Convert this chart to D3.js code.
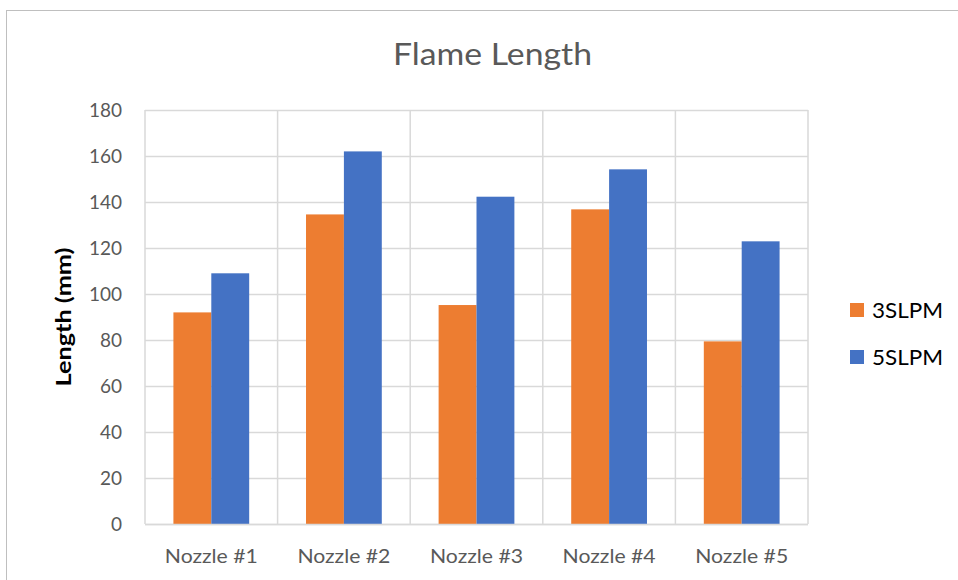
<!DOCTYPE html>
<html><head><meta charset="utf-8">
<script src="https://cdn.jsdelivr.net/npm/d3@7"></script>
<style>body{margin:0;background:#fff}svg{display:block}text{font-family:Lato,"Open Sans",sans-serif}</style>
</head><body>
<svg id="c" width="958" height="580"></svg>
<script>
const categories = ["Nozzle #1","Nozzle #2","Nozzle #3","Nozzle #4","Nozzle #5"];
const seriesNames = ["3SLPM","5SLPM"];
const values3 = [92.0,134.6,95.2,136.8,79.4];
const values5 = [109.0,162.0,142.3,154.2,122.9];
const yTicks = [0,20,40,60,80,100,120,140,160,180];
const colors = ["#ED7D31","#4472C4"];

const svg = d3.select("#c");
svg.append("rect").attr("x",6.5).attr("y",10.5).attr("width",1000).attr("height",600)
  .attr("fill","none").attr("stroke","#bfbfbf");

const L=145,R=808,T=110,B=524;
const x = d3.scaleBand().domain(categories).range([L,R]).paddingInner(0).paddingOuter(0);
const y = d3.scaleLinear().domain([0,180]).range([B,T]);
// gap width 150% -> bar width = band/(2+1.5)
const bw = x.bandwidth()/(2+1.5);
const g = svg.append("g");
g.selectAll("line.h").data(yTicks).join("line")
  .attr("x1",L).attr("x2",R).attr("y1",d=>Math.round(y(d))+0.5).attr("y2",d=>Math.round(y(d))+0.5)
  .attr("stroke","#d9d9d9").attr("stroke-width",1.5);
const vx = categories.map(c=>x(c)).concat([R]);
g.selectAll("line.v").data(vx).join("line")
  .attr("x1",d=>d).attr("x2",d=>d).attr("y1",T).attr("y2",B)
  .attr("stroke","#d9d9d9").attr("stroke-width",1.5);

[values3, values5].forEach((vals,si)=>{
  svg.append("g").selectAll("rect").data(categories).join("rect")
    .attr("x",c=>x(c)+bw*0.75+si*bw)
    .attr("y",(c,i)=>y(vals[i]))
    .attr("width",bw)
    .attr("height",(c,i)=>B-y(vals[i]))
    .attr("fill",colors[si]);
});
svg.append("line").attr("x1",L).attr("x2",R).attr("y1",B+0.5).attr("y2",B+0.5).attr("stroke","#d9d9d9").attr("stroke-width",1.5);

svg.append("g").selectAll("text").data(yTicks).join("text")
  .attr("x",122).attr("y",d=>y(d)+6.5).attr("text-anchor","end")
  .attr("font-size",19).attr("fill","#595959").text(d=>d);
svg.append("g").selectAll("text").data(categories).join("text")
  .attr("x",c=>x(c)+x.bandwidth()/2).attr("y",563).attr("text-anchor","middle")
  .attr("font-size",18.5).attr("textLength",93).attr("lengthAdjust","spacingAndGlyphs")
  .attr("fill","#595959").text(c=>c);
svg.append("text").attr("x",492.5).attr("y",65).attr("text-anchor","middle")
  .attr("font-size",30.5).attr("textLength",199).attr("lengthAdjust","spacingAndGlyphs")
  .attr("fill","#595959").text("Flame Length");
svg.append("text").attr("transform","translate(71,317) rotate(-90)").attr("text-anchor","middle")
  .attr("font-size",20).attr("font-weight","bold").attr("textLength",139).attr("lengthAdjust","spacingAndGlyphs")
  .attr("fill","#000").text("Length (mm)");
const lg = svg.append("g");
seriesNames.forEach((s,i)=>{
  lg.append("rect").attr("x",850).attr("y",303+i*47).attr("width",14).attr("height",14).attr("fill",colors[i]);
  lg.append("text").attr("x",872).attr("y",317.5+i*47.5).attr("font-size",21)
    .attr("textLength",71).attr("lengthAdjust","spacingAndGlyphs").attr("fill","#000").text(s);
});
</script>
</body></html>
